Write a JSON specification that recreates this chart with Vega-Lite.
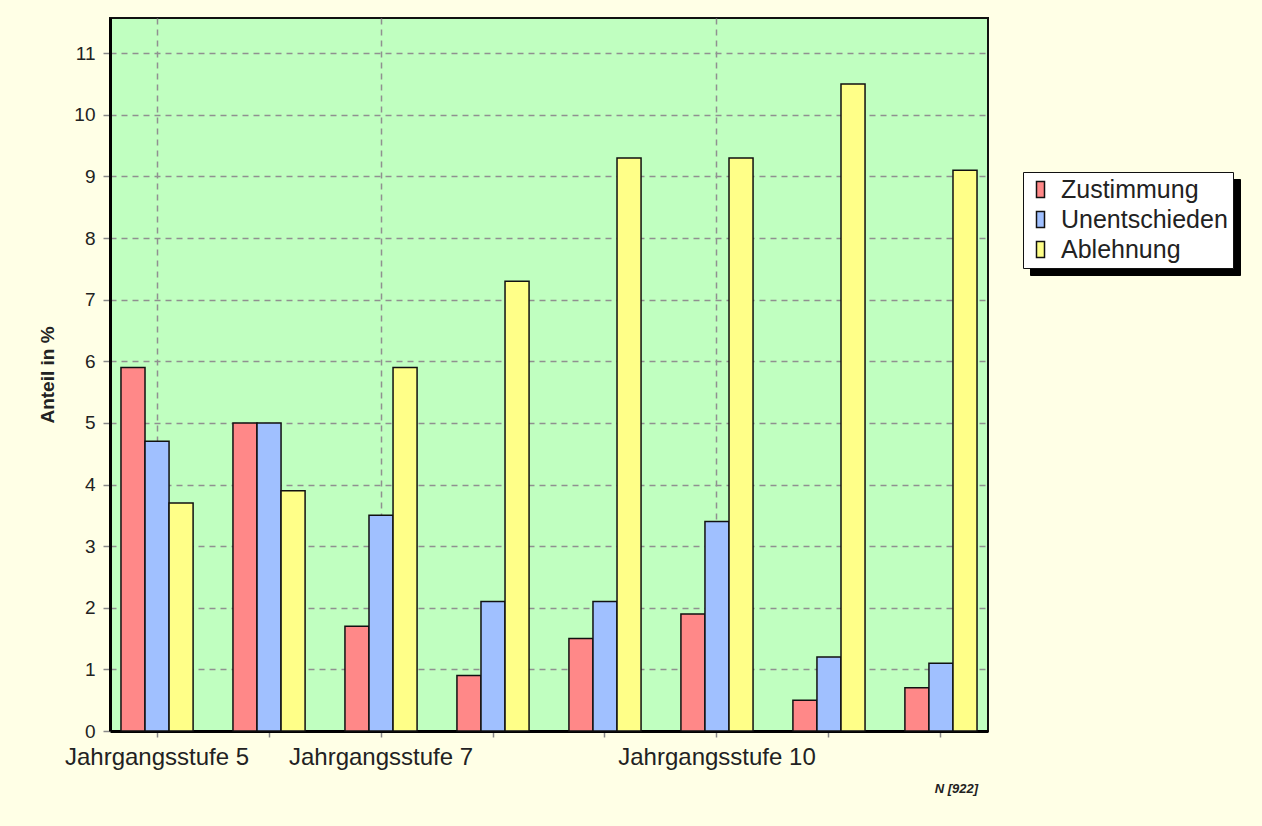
{
  "$schema": "https://vega.github.io/schema/vega-lite/v6.json",
  "width": 878,
  "height": 713,
  "autosize": {"type": "none"},
  "padding": {"left": 110, "top": 18, "right": 274, "bottom": 95},
  "background": "#FFFFE6",
  "config": {
    "font": "Liberation Sans",
    "view": {"fill": "#C0FFC0", "stroke": "#111", "strokeWidth": 2}
  },
  "title": {
    "text": "N [922]",
    "orient": "bottom",
    "anchor": "end",
    "frame": "group",
    "fontSize": 13,
    "fontStyle": "italic",
    "fontWeight": "bold",
    "color": "#222",
    "offset": 14,
    "dx": -10
  },
  "data": {
    "values": [
      {"g": "g1", "k": "Zustimmung", "v": 5.9},
      {"g": "g1", "k": "Unentschieden", "v": 4.7},
      {"g": "g1", "k": "Ablehnung", "v": 3.7},
      {"g": "g2", "k": "Zustimmung", "v": 5.0},
      {"g": "g2", "k": "Unentschieden", "v": 5.0},
      {"g": "g2", "k": "Ablehnung", "v": 3.9},
      {"g": "g3", "k": "Zustimmung", "v": 1.7},
      {"g": "g3", "k": "Unentschieden", "v": 3.5},
      {"g": "g3", "k": "Ablehnung", "v": 5.9},
      {"g": "g4", "k": "Zustimmung", "v": 0.9},
      {"g": "g4", "k": "Unentschieden", "v": 2.1},
      {"g": "g4", "k": "Ablehnung", "v": 7.3},
      {"g": "g5", "k": "Zustimmung", "v": 1.5},
      {"g": "g5", "k": "Unentschieden", "v": 2.1},
      {"g": "g5", "k": "Ablehnung", "v": 9.3},
      {"g": "g6", "k": "Zustimmung", "v": 1.9},
      {"g": "g6", "k": "Unentschieden", "v": 3.4},
      {"g": "g6", "k": "Ablehnung", "v": 9.3},
      {"g": "g7", "k": "Zustimmung", "v": 0.5},
      {"g": "g7", "k": "Unentschieden", "v": 1.2},
      {"g": "g7", "k": "Ablehnung", "v": 10.5},
      {"g": "g8", "k": "Zustimmung", "v": 0.7},
      {"g": "g8", "k": "Unentschieden", "v": 1.1},
      {"g": "g8", "k": "Ablehnung", "v": 9.1}
    ]
  },
  "mark": {"type": "bar", "strokeWidth": 1.5},
  "encoding": {
    "x": {
      "field": "g",
      "type": "nominal",
      "sort": null,
      "scale": {"paddingInner": 0.356, "paddingOuter": 0.098},
      "axis": {
        "title": null,
        "labelAngle": 0,
        "labelExpr": "datum.value == 'g1' ? 'Jahrgangsstufe 5' : datum.value == 'g3' ? 'Jahrgangsstufe 7' : datum.value == 'g6' ? 'Jahrgangsstufe 10' : ''",
        "labelFontSize": 24,
        "labelLimit": 0,
        "labelColor": "#222",
        "labelPadding": 8,
        "labelOverlap": false,
        "domainColor": "#000",
        "domainWidth": 3,
        "tickColor": "#888",
        "tickSize": 6,
        "tickWidth": 1.5,
        "grid": true,
        "gridColor": "#909090",
        "gridDash": [6, 5],
        "gridWidth": 1.5,
        "gridOpacity": {"condition": {"test": "indexof(['g1','g3','g6'], datum.value) >= 0", "value": 1}, "value": 0}
      }
    },
    "xOffset": {
      "field": "k",
      "type": "nominal",
      "sort": ["Zustimmung", "Unentschieden", "Ablehnung"],
      "scale": {"paddingInner": 0, "paddingOuter": 0}
    },
    "y": {
      "field": "v",
      "type": "quantitative",
      "scale": {"domain": [0, 11.57], "nice": false},
      "axis": {
        "title": "Anteil in %",
        "titleFontSize": 19,
        "titleFontWeight": "bold",
        "titleColor": "#222",
        "titlePadding": 16,
        "values": [0, 1, 2, 3, 4, 5, 6, 7, 8, 9, 10, 11],
        "labelFontSize": 19,
        "labelColor": "#222",
        "labelPadding": 8,
        "domainColor": "#000",
        "domainWidth": 3,
        "tickColor": "#888",
        "tickSize": 7,
        "tickWidth": 1.5,
        "grid": true,
        "gridColor": "#909090",
        "gridDash": [6, 5],
        "gridWidth": 1.5
      }
    },
    "fill": {
      "field": "k",
      "type": "nominal",
      "sort": ["Zustimmung", "Unentschieden", "Ablehnung"],
      "scale": {"range": ["#FF8888", "#A0C0FF", "#FFFF88"]},
      "legend": {
        "title": null,
        "orient": "none",
        "legendX": 913,
        "legendY": 154,
        "zindex": 2,
        "fillColor": "white",
        "strokeColor": "#111",
        "padding": 5,
        "labelFontSize": 25,
        "labelLimit": 0,
        "labelColor": "#222",
        "labelOffset": 8,
        "rowPadding": 4,
        "symbolType": "M-0.5,-1H0.5V1H-0.5Z",
        "symbolSize": 256,
        "symbolStrokeColor": "#111",
        "symbolStrokeWidth": 1.5,
        "symbolOpacity": 1
      }
    },
    "stroke": {
      "field": "k",
      "type": "nominal",
      "scale": {"domain": ["Zustimmung", "Unentschieden", "Ablehnung"], "range": ["#111111", "#111111", "#111111"]},
      "legend": {
        "title": null,
        "orient": "none",
        "legendX": 920,
        "legendY": 161,
        "zindex": 1,
        "fillColor": "#000000",
        "strokeColor": "#000000",
        "padding": 5,
        "labelFontSize": 25,
        "labelLimit": 0,
        "labelColor": "#000000",
        "labelOpacity": 0,
        "labelOffset": 8,
        "rowPadding": 4,
        "symbolType": "M-0.5,-1H0.5V1H-0.5Z",
        "symbolSize": 256,
        "symbolFillColor": "#000000",
        "symbolStrokeColor": "#000000",
        "symbolStrokeWidth": 1.5,
        "symbolOpacity": 1
      }
    }
  }
}
